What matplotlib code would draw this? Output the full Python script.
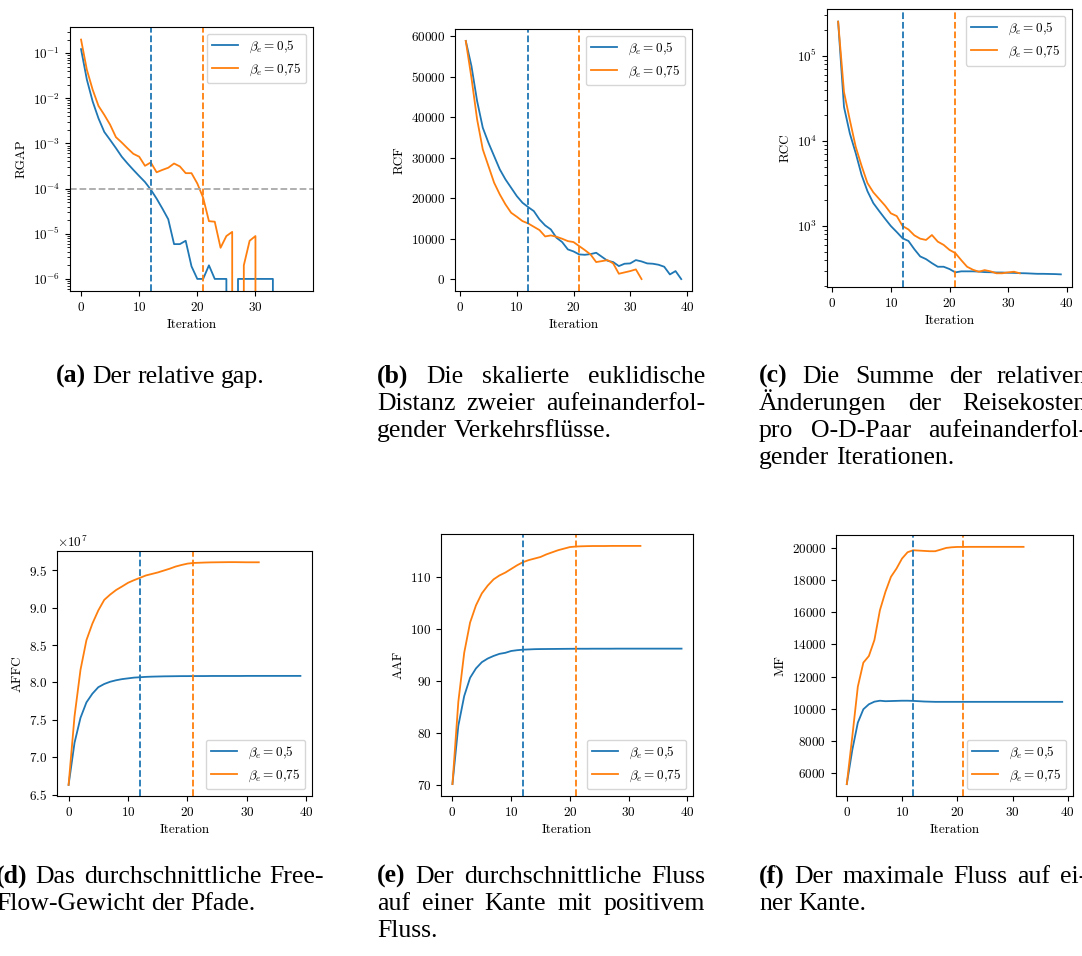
import numpy as np
import matplotlib
matplotlib.use('Agg')
import matplotlib.pyplot as plt

plt.rcParams['font.family'] = 'cmr10'
plt.rcParams['mathtext.fontset'] = 'cm'
plt.rcParams['axes.formatter.use_mathtext'] = True
plt.rcParams['font.size'] = 9.5

W, H = 1082, 956
C0, C1 = '#1f77b4', '#ff7f0e'
labels = [r'$\beta_e = 0{,}5$', r'$\beta_e = 0{,}75$']
stop_05, stop_075 = 12, 21

# --- data ---------------------------------------------------------------
it_rgap_05 = np.arange(0, 39)
rgap_05 = [0.123, 2.6e-2, 8.5e-3, 3.6e-3, 1.8e-3, 1.2e-3, 7.9e-4, 5.1e-4, 3.6e-4, 2.6e-4,
           1.9e-4, 1.4e-4, 9.5e-5, 6.0e-5, 3.6e-5, 2.1e-5, 5.9e-6, 5.9e-6, 7.0e-6, 1.9e-6,
           1e-6, 1e-6, 2e-6, 1e-6, 1e-6, 1e-6, 0, 1e-6, 1e-6, 1e-6,
           1e-6, 1e-6, 1e-6, 1e-6, 0, 0, 0, 0, 0]
it_rgap_075 = np.arange(0, 33)
rgap_075 = [0.2, 4.3e-2, 1.55e-2, 6.8e-3, 4.3e-3, 2.6e-3, 1.38e-3, 1.05e-3, 7.8e-4, 5.9e-4,
            5.1e-4, 3.2e-4, 3.8e-4, 2.3e-4, 2.6e-4, 2.9e-4, 3.6e-4, 3.1e-4, 2.2e-4, 2.2e-4,
            1.3e-4, 6.3e-5, 1.9e-5, 1.85e-5, 4.9e-6, 8.9e-6, 1.1e-5, 0, 2e-6, 7e-6,
            8.9e-6, 0, 0]

it_rcf_05 = np.arange(1, 40)
rcf_05 = [58800, 52600, 43950, 37370, 33660, 30370, 27080, 24610, 22550, 20490,
          18850, 17780, 16790, 14730, 13250, 12260, 10200, 9140, 7330, 6830,
          6090, 6000, 6170, 6500, 5510, 4530, 4200, 3210, 3790, 3870,
          4690, 4360, 3870, 3790, 3540, 3050, 1150, 1980, 0]
it_rcf_075 = np.arange(1, 33)
rcf_075 = [58800, 49710, 39420, 32020, 27900, 23790, 20900, 18440, 16380, 15390,
           14320, 13740, 12920, 12100, 10530, 10780, 10450, 9960, 9380, 9140,
           8150, 7160, 6090, 4200, 4440, 4690, 3870, 1320, 1650, 1980,
           2390, 0]

it_rcc_05 = np.arange(1, 40)
rcc_05 = [251000, 25000, 12200, 7180, 3980, 2570, 1860, 1500, 1220, 1000,
          851, 718, 668, 535, 440, 409, 367, 333, 333, 313,
          286, 294, 294, 294, 292, 288, 287, 285, 285, 283,
          282, 280, 279, 277, 275, 275, 274, 273, 271]
it_rcc_075 = np.arange(1, 33)
rcc_075 = [251000, 37400, 17500, 8510, 5090, 3200, 2490, 2080, 1740, 1410,
           1310, 1000, 912, 778, 711, 687, 785, 656, 601, 525,
           481, 398, 333, 307, 291, 304, 294, 279, 279, 286,
           291, 279]

it_05 = np.arange(0, 40)
it_075 = np.arange(0, 33)
affc_05 = [6.632e7, 7.195e7, 7.527e7, 7.734e7, 7.850e7, 7.937e7, 7.980e7, 8.010e7, 8.030e7, 8.045e7,
           8.055e7, 8.065e7, 8.070e7, 8.075e7, 8.078e7, 8.080e7, 8.082e7, 8.083e7, 8.084e7, 8.085e7,
           8.085e7, 8.086e7, 8.086e7, 8.086e7, 8.087e7, 8.087e7, 8.087e7, 8.087e7, 8.087e7, 8.087e7,
           8.088e7, 8.088e7, 8.088e7, 8.088e7, 8.088e7, 8.088e7, 8.088e7, 8.088e7, 8.088e7, 8.088e7]
affc_075 = [6.632e7, 7.549e7, 8.168e7, 8.565e7, 8.786e7, 8.963e7, 9.104e7, 9.175e7, 9.236e7, 9.283e7,
            9.332e7, 9.367e7, 9.398e7, 9.430e7, 9.450e7, 9.470e7, 9.495e7, 9.520e7, 9.549e7, 9.570e7,
            9.588e7, 9.597e7, 9.600e7, 9.603e7, 9.605e7, 9.606e7, 9.607e7, 9.608e7, 9.608e7, 9.607e7,
            9.606e7, 9.606e7, 9.606e7]

aaf_05 = [70.2, 81.4, 87.1, 90.6, 92.4, 93.6, 94.3, 94.8, 95.2, 95.4,
          95.75, 95.9, 96.0, 96.05, 96.1, 96.12, 96.13, 96.14, 96.15, 96.16,
          96.17, 96.18, 96.18, 96.18, 96.19, 96.19, 96.19, 96.19, 96.2, 96.2,
          96.2, 96.2, 96.2, 96.2, 96.2, 96.2, 96.2, 96.2, 96.2, 96.2]
aaf_075 = [70.2, 86.0, 95.4, 101.2, 104.5, 106.8, 108.3, 109.5, 110.25, 110.8,
           111.5, 112.2, 112.8, 113.2, 113.5, 113.8, 114.3, 114.7, 115.1, 115.4,
           115.7, 115.8, 115.85, 115.88, 115.9, 115.9, 115.9, 115.92, 115.92, 115.92,
           115.92, 115.92, 115.92]

mf_05 = [5340, 7460, 9150, 9980, 10290, 10450, 10510, 10480, 10490, 10500,
         10510, 10510, 10500, 10480, 10460, 10450, 10440, 10440, 10440, 10440,
         10440, 10440, 10440, 10440, 10440, 10440, 10440, 10440, 10440, 10440,
         10440, 10440, 10440, 10440, 10440, 10440, 10440, 10440, 10440, 10440]
mf_075 = [5340, 8290, 11380, 12870, 13280, 14270, 16120, 17260, 18190, 18700,
          19320, 19710, 19835, 19815, 19795, 19775, 19775, 19875, 19980, 20020,
          20040, 20040, 20045, 20045, 20045, 20045, 20045, 20045, 20045, 20045,
          20045, 20045, 20045]

cap_labels = ['(a)', '(b)', '(c)', '(d)', '(e)', '(f)']
cap_texts = [
    ['Der relative gap.'],
    ['Die skalierte euklidische', 'Distanz zweier aufeinanderfol-', 'gender Verkehrsflüsse.'],
    ['Die Summe der relativen', 'Änderungen der Reisekosten', 'pro O-D-Paar aufeinanderfol-',
     'gender Iterationen.'],
    ['Das durchschnittliche Free-', 'Flow-Gewicht der Pfade.'],
    ['Der durchschnittliche Fluss', 'auf einer Kante mit positivem', 'Fluss.'],
    ['Der maximale Fluss auf ei-', 'ner Kante.'],
]

# --- figure -------------------------------------------------------------
fig = plt.figure(figsize=(W / 100, H / 100), dpi=100)


def px_axes(x0, y0, x1, y1):
    return fig.add_axes([x0 / W, 1 - y1 / H, (x1 - x0) / W, (y1 - y0) / H])


def add_stops(ax):
    ax.axvline(stop_05, color=C0, ls='--', lw=1.3)
    ax.axvline(stop_075, color=C1, ls='--', lw=1.3)


panels = [
    (px_axes(70, 27, 313, 291), (it_rgap_05, rgap_05), (it_rgap_075, rgap_075), 'RGAP', 'upper right'),
    (px_axes(455, 29, 692, 291), (it_rcf_05, rcf_05), (it_rcf_075, rcf_075), 'RCF', 'upper right'),
    (px_axes(827, 9, 1072, 287), (it_rcc_05, rcc_05), (it_rcc_075, rcc_075), 'RCC', 'upper right'),
    (px_axes(57, 551, 312, 796), (it_05, affc_05), (it_075, affc_075), 'AFFC', 'lower right'),
    (px_axes(441, 534, 693, 796), (it_05, aaf_05), (it_075, aaf_075), 'AAF', 'lower right'),
    (px_axes(836, 535, 1073, 796), (it_05, mf_05), (it_075, mf_075), 'MF', 'lower right'),
]

for i, (ax, s05, s075, ylab, loc) in enumerate(panels):
    if i in (0, 2):
        ax.set_yscale('log')
    ax.plot(s05[0], s05[1], color=C0, lw=1.3, label=labels[0])
    ax.plot(s075[0], s075[1], color=C1, lw=1.3, label=labels[1])
    add_stops(ax)
    if i == 0:
        ax.axhline(1e-4, color='darkgray', ls='--', lw=1.3)
        ax.set_ylim(5.4e-7, 0.38)
    ax.set_ylabel(ylab)
    ax.set_xlabel('Iteration')
    ax.legend(loc=loc)

# --- captions -----------------------------------------------------------
cap_font = dict(family='Liberation Serif', fontsize=18.5)
col_x = [-4, 377, 759, -4, 377, 759]
col_w = 328
base_y = [383, 383, 383, 883, 883, 883]
line_h = 27
renderer = fig.canvas.get_renderer()
space_w = 0.25 * cap_font['fontsize'] * 100 / 72


def caption_line(words, bold_first, x0, y, justify, center=False):
    texts = []
    for k, w in enumerate(words):
        t = fig.text(0, 1 - y / H, w, va='baseline', ha='left',
                     weight='bold' if (bold_first and k == 0) else 'normal', **cap_font)
        texts.append(t)
    widths = [t.get_window_extent(renderer).width for t in texts]
    if justify and len(words) > 1:
        gap = (col_w - sum(widths)) / (len(words) - 1)
    else:
        gap = space_w
    if center:
        total = sum(widths) + gap * (len(words) - 1)
        x0 = x0 + (col_w - total) / 2
    x = x0
    for t, wd in zip(texts, widths):
        t.set_x(x / W)
        x += wd + gap


for c in range(6):
    lines = cap_texts[c]
    for j, line in enumerate(lines):
        words = line.split(' ')
        if j == 0:
            words = [cap_labels[c]] + words
        last = j == len(lines) - 1
        caption_line(words, j == 0, col_x[c], base_y[c] + j * line_h,
                     justify=not last, center=(len(lines) == 1))

fig.savefig('out.png', dpi=100)
